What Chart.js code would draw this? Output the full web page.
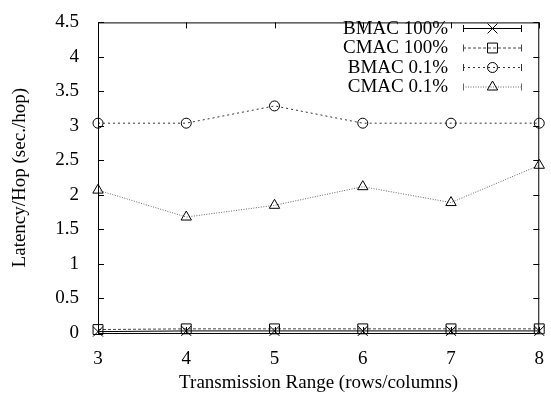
<!DOCTYPE html>
<html lang="en">
<head>
    <meta charset="UTF-8">
    <title>Latency per Hop</title>
    <script src="https://cdn.jsdelivr.net/npm/chart.js"></script>
    <style>
        html, body { margin: 0; padding: 0; background: #fff; }
        #wrap { width: 551px; height: 402px; }
    </style>
</head>
<body>
<div id="wrap"><canvas id="latencyChart" width="551" height="402"></canvas></div>

<script>
    const ranges = [3, 4, 5, 6, 7, 8];
    const bmac100 = [0.02, 0.03, 0.03, 0.03, 0.03, 0.03];
    const cmac100 = [0.05, 0.06, 0.06, 0.06, 0.06, 0.06];
    const bmac01 = [3.04, 3.04, 3.29, 3.04, 3.04, 3.04];
    const cmac01 = [2.07, 1.68, 1.85, 2.12, 1.89, 2.43];
    const yTicks = [0, 0.5, 1, 1.5, 2, 2.5, 3, 3.5, 4, 4.5];

    const FONT = 'Liberation Serif';
    const pts = (vals) => ranges.map((r, i) => ({ x: r, y: vals[i] }));

    const series = [
        { label: 'BMAC 100%', data: bmac100, color: '#000', dash: [], style: 'crossRot', radius: 7 },
        { label: 'CMAC 100%', data: cmac100, color: '#444', dash: [3, 2], style: 'rect', radius: 7 },
        { label: 'BMAC 0.1%', data: bmac01, color: '#333', dash: [2, 3], style: 'circle', radius: 5 },
        { label: 'CMAC 0.1%', data: cmac01, color: '#666', dash: [1, 1.5], style: 'triangle', radius: 6 }
    ];

    // gnuplot style frame with inward ticks on all four sides
    const framePlugin = {
        id: 'frame',
        afterDraw(chart) {
            const { ctx, chartArea: a, scales } = chart;
            ctx.save();
            ctx.strokeStyle = '#000';
            ctx.lineWidth = 1;
            ctx.setLineDash([]);
            ctx.strokeRect(a.left + 0.5, a.top + 0.5, a.right - a.left - 1, a.bottom - a.top);
            const len = 6;
            ctx.beginPath();
            yTicks.forEach(v => {
                const y = Math.round(scales.y.getPixelForValue(v)) + 0.5;
                ctx.moveTo(a.left, y); ctx.lineTo(a.left + len, y);
                ctx.moveTo(a.right, y); ctx.lineTo(a.right - len, y);
            });
            ranges.forEach(v => {
                const x = Math.round(scales.x.getPixelForValue(v)) + 0.5;
                ctx.moveTo(x, a.bottom); ctx.lineTo(x, a.bottom - len);
                ctx.moveTo(x, a.top); ctx.lineTo(x, a.top + len);
            });
            ctx.stroke();
            ctx.restore();
        }
    };

    // key in the upper right: label, then sample line with the marker in the middle
    const keyPlugin = {
        id: 'key',
        afterDraw(chart) {
            const ctx = chart.ctx;
            const textRight = 448, x0 = 463, x1 = 522;
            ctx.save();
            ctx.font = '19px "' + FONT + '"';
            ctx.textAlign = 'right';
            ctx.textBaseline = 'middle';
            chart.data.datasets.forEach((ds, i) => {
                const y = 28 + i * 19.5;
                ctx.fillStyle = '#000';
                ctx.fillText(ds.label, textRight, y + 1);
                ctx.strokeStyle = ds.borderColor;
                ctx.lineWidth = 1;
                ctx.setLineDash(ds.borderDash);
                ctx.beginPath();
                ctx.moveTo(x0, y + 0.5); ctx.lineTo(x1, y + 0.5);
                ctx.stroke();
                ctx.setLineDash([]);
                ctx.beginPath();
                ctx.moveTo(x0 + 0.5, y - 3); ctx.lineTo(x0 + 0.5, y + 4);
                ctx.moveTo(x1 - 0.5, y - 3); ctx.lineTo(x1 - 0.5, y + 4);
                ctx.stroke();
                ctx.strokeStyle = '#000';
                ctx.fillStyle = 'rgba(0,0,0,0)';
                Chart.helpers.drawPoint(ctx, {
                    pointStyle: ds.pointStyle, radius: ds.pointRadius,
                    borderWidth: 1, rotation: 0
                }, (x0 + x1) / 2, y + 0.5);
            });
            ctx.restore();
        }
    };

    const ctx = document.getElementById('latencyChart').getContext('2d');
    const chart = new Chart(ctx, {
        type: 'line',
        data: {
            datasets: series.map(s => ({
                label: s.label,
                data: pts(s.data),
                borderColor: s.color,
                borderWidth: 1,
                borderDash: s.dash,
                pointStyle: s.style,
                pointRadius: s.radius,
                pointBorderColor: '#000',
                pointBackgroundColor: 'rgba(0,0,0,0)',
                pointBorderWidth: 1,
                tension: 0,
                clip: false
            }))
        },
        options: {
            responsive: false,
            animation: false,
            devicePixelRatio: 1,
            layout: { padding: { top: 13, right: 5, left: 0, bottom: 0 } },
            plugins: {
                legend: { display: false },
                tooltip: { enabled: false }
            },
            scales: {
                x: {
                    type: 'linear',
                    min: 3, max: 8,
                    afterBuildTicks: (s) => { s.ticks = ranges.map(v => ({ value: v })); },
                    afterFit: (s) => { s.height = 69; },
                    grid: { display: false },
                    border: { display: false },
                    ticks: { color: '#000', padding: 7, font: { family: FONT, size: 19 } },
                    title: {
                        display: true, text: 'Transmission Range (rows/columns)', color: '#000',
                        font: { family: FONT, size: 19 }, padding: { top: 0, bottom: 8 }
                    }
                },
                y: {
                    min: 0, max: 4.5,
                    afterBuildTicks: (s) => { s.ticks = yTicks.map(v => ({ value: v })); },
                    afterFit: (s) => { s.width = 98; },
                    grid: { display: false },
                    border: { display: false },
                    ticks: {
                        color: '#000', padding: 11, font: { family: FONT, size: 19 },
                        callback: (v) => String(v)
                    },
                    title: {
                        display: true, text: 'Latency/Hop (sec./hop)', color: '#000',
                        font: { family: FONT, size: 19 }, padding: { top: 9, bottom: 0 }
                    }
                }
            }
        },
        plugins: [framePlugin, keyPlugin]
    });
</script>
</body>
</html>
